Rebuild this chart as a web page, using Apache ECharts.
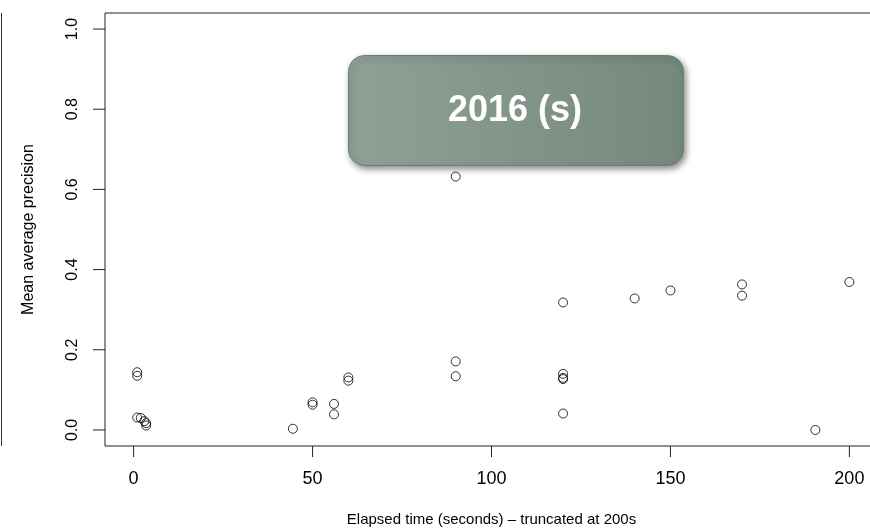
<!DOCTYPE html>
<html>
<head>
<meta charset="utf-8">
<script src="https://cdn.jsdelivr.net/npm/echarts@6/dist/echarts.min.js"></script>
<style>
  html, body { margin: 0; padding: 0; background: #fff; }
  #chart { width: 870px; height: 530px; }
</style>
</head>
<body>
<div id="chart"></div>
<script>
// 数据
var elapsed_seconds = [1, 1, 1, 2, 3, 3.5, 3.5, 44.5, 50, 50, 56, 56, 60, 60, 90, 90, 90,
    120, 120, 120, 120, 120, 140, 150, 170, 170, 190.5, 200];
var mean_avg_precision = [0.144, 0.135, 0.031, 0.030, 0.022, 0.017, 0.011, 0.003, 0.069, 0.063,
    0.065, 0.039, 0.131, 0.123, 0.632, 0.171, 0.134, 0.318, 0.140, 0.130, 0.127, 0.041,
    0.328, 0.348, 0.363, 0.335, 0.0, 0.369];
var x_ticks = [0, 50, 100, 150, 200];
var y_ticks = [0, 0.2, 0.4, 0.6, 0.8, 1.0];
var badge_text = '2016 (s)';

var X_MIN = -8, X_MAX = 208;
var Y_MIN = -0.04, Y_MAX = 1.04;

var Page = {

    my_chart: null,
    line_color: '#222',
    font: 'Liberation Sans, Arial, sans-serif',

    init: function () {
        this.my_chart = echarts.init(document.getElementById('chart'), null, { renderer: 'canvas' });
        this.draw_Chart();
    },

    draw_Chart: function () {
        var points = [];
        for (var i = 0; i < elapsed_seconds.length; i++) {
            points.push([elapsed_seconds[i], mean_avg_precision[i]]);
        }

        var font = this.font;
        var line_color = this.line_color;

        // 刻度线：画在主图外侧的两个窄条坐标系里（与主图共用同样的轴范围）
        var tick_series = [];
        x_ticks.forEach(function (v) {
            tick_series.push({
                type: 'line',
                xAxisIndex: 1,
                yAxisIndex: 1,
                data: [[v, 0], [v, 1]],
                symbol: 'none',
                silent: true,
                lineStyle: { color: line_color, width: 1 }
            });
        });
        y_ticks.forEach(function (v) {
            tick_series.push({
                type: 'line',
                xAxisIndex: 2,
                yAxisIndex: 2,
                data: [[0, v], [1, v]],
                symbol: 'none',
                silent: true,
                lineStyle: { color: line_color, width: 1 }
            });
        });

        var hidden_axis = function (grid_index, min, max) {
            return {
                type: 'value',
                gridIndex: grid_index,
                min: min,
                max: max,
                show: false
            };
        };

        var option = {
            animation: false,
            backgroundColor: '#fff',
            grid: [{
                // 主图，右边框超出画布（原图被裁掉了）
                left: 105,
                top: 13,
                width: 773,
                height: 433,
                outerBoundsMode: 'none',
                containLabel: false,
                show: true,
                borderColor: line_color,
                borderWidth: 1
            }, {
                // x 轴刻度条
                left: 105,
                top: 446,
                width: 773,
                height: 11,
                outerBoundsMode: 'none',
                containLabel: false
            }, {
                // y 轴刻度条
                left: 93,
                top: 13,
                width: 12,
                height: 433,
                outerBoundsMode: 'none',
                containLabel: false
            }],
            xAxis: [{
                type: 'value',
                gridIndex: 0,
                min: X_MIN,
                max: X_MAX,
                axisLine: { show: false, onZero: false },
                splitLine: { show: false },
                axisTick: { show: false },
                axisLabel: {
                    customValues: x_ticks,
                    margin: 24,
                    fontSize: 18,
                    fontFamily: font,
                    color: '#000'
                },
                name: 'Elapsed time (seconds) \u2013 truncated at 200s',
                nameLocation: 'middle',
                nameGap: 66,
                nameTextStyle: { fontSize: 15, fontFamily: font, color: '#000' }
            },
                hidden_axis(1, X_MIN, X_MAX),
                hidden_axis(2, 0, 1)
            ],
            yAxis: [{
                type: 'value',
                gridIndex: 0,
                min: Y_MIN,
                max: Y_MAX,
                axisLine: { show: false, onZero: false },
                splitLine: { show: false },
                axisTick: { show: false },
                axisLabel: {
                    customValues: y_ticks,
                    rotate: 90,
                    margin: 24,
                    fontSize: 16,
                    fontFamily: font,
                    color: '#000',
                    formatter: function (v) { return v.toFixed(1); }
                },
                name: 'Mean average precision',
                nameLocation: 'middle',
                nameGap: 68,
                nameTextStyle: { fontSize: 16, fontFamily: font, color: '#000' }
            },
                hidden_axis(1, 0, 1),
                hidden_axis(2, Y_MIN, Y_MAX)
            ],
            series: [{
                type: 'scatter',
                xAxisIndex: 0,
                yAxisIndex: 0,
                data: points,
                symbol: 'circle',
                symbolSize: 9,
                itemStyle: {
                    color: 'rgba(0,0,0,0)',
                    borderColor: '#000',
                    borderWidth: 1
                },
                z: 2
            }].concat(tick_series),
            graphic: [
                // 左边残留的竖线
                {
                    type: 'line',
                    shape: { x1: 1.5, y1: 13, x2: 1.5, y2: 446 },
                    style: { stroke: '#333', lineWidth: 1 }
                },
                // 标签框
                {
                    type: 'rect',
                    left: 348,
                    top: 55,
                    shape: { width: 335, height: 110, r: 16 },
                    style: {
                        fill: new echarts.graphic.LinearGradient(0, 0, 1, 0, [
                            { offset: 0, color: '#8fa196' },
                            { offset: 1, color: '#74887b' }
                        ]),
                        stroke: '#6d7f73',
                        lineWidth: 1,
                        shadowBlur: 6,
                        shadowOffsetX: 2,
                        shadowOffsetY: 3,
                        shadowColor: 'rgba(0,0,0,0.45)'
                    },
                    z: 10
                },
                {
                    type: 'text',
                    x: 515,
                    y: 111,
                    style: {
                        text: badge_text,
                        fill: '#fff',
                        font: 'bold 36px ' + font,
                        textAlign: 'center',
                        textVerticalAlign: 'middle'
                    },
                    z: 11
                }
            ]
        };

        this.my_chart.setOption(option);
    }
};

Page.init();
</script>
</body>
</html>
